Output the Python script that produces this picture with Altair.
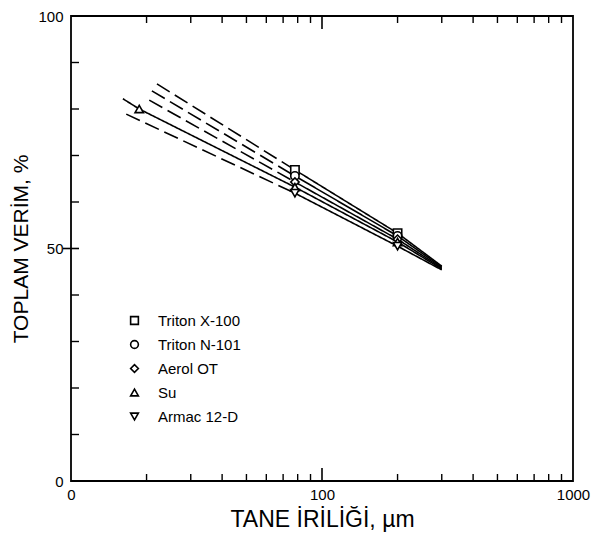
import altair as alt
import pandas as pd

# ---- data ----
series = ["Triton X-100", "Triton N-101", "Aerol OT", "Su", "Armac 12-D"]
shapes = ["square", "circle", "diamond", "triangle-up", "triangle-down"]

# dashed extrapolation start (size, %)
start_x = [22.0, 21.0, 20.5, 16.1, 16.6]
start_v = [85.4, 83.9, 81.9, 82.2, 78.9]
# measured points
x1 = 78
v1 = [66.9, 65.6, 64.3, 63.2, 61.9]
x2 = 200
v2 = [53.3, 52.7, 52.0, 51.4, 50.5]
# end of fitted lines
x3 = 300
v3 = [46.2, 46.0, 45.8, 45.6, 45.4]
# Su has one extra measured point at small size
su_x = 18.7
su_v = 80.0

minor_x = [20, 30, 40, 50, 60, 70, 80, 90, 200, 300, 400, 500, 600, 700, 800, 900]
major_x = [100]
minor_y = [10, 20, 30, 40, 60, 70, 80, 90]
major_y = [50]

W, H = 502, 465

rows = []
for i, s in enumerate(series):
    if s == "Su":
        rows += [
            dict(x=start_x[i], y=start_v[i], series=s, seg="solid", key=s + "a"),
            dict(x=su_x, y=su_v, series=s, seg="solid", key=s + "a"),
            dict(x=x1, y=v1[i], series=s, seg="solid", key=s + "a"),
        ]
    else:
        rows += [
            dict(x=start_x[i], y=start_v[i], series=s, seg="dash", key=s + "a"),
            dict(x=x1, y=v1[i], series=s, seg="dash", key=s + "a"),
        ]
    rows += [
        dict(x=x1, y=v1[i], series=s, seg="solid", key=s + "b"),
        dict(x=x2, y=v2[i], series=s, seg="solid", key=s + "b"),
        dict(x=x3, y=v3[i], series=s, seg="solid", key=s + "b"),
    ]
lines_df = pd.DataFrame(rows)

pts = []
for i, s in enumerate(series):
    pts.append(dict(x=x1, y=v1[i], series=s))
    pts.append(dict(x=x2, y=v2[i], series=s))
pts.append(dict(x=su_x, y=su_v, series="Su"))
pts_df = pd.DataFrame(pts)

xscale = alt.Scale(type="log", domain=[10, 1000], nice=False)
yscale = alt.Scale(domain=[0, 100], nice=False)

FONT = "Liberation Sans"

xaxis = alt.Axis(values=[10, 100, 1000],
                 labelExpr="datum.value == 10 ? '0' : format(datum.value, 'd')",
                 ticks=False, domain=False, grid=False, labelFontSize=15, labelPadding=6,
                 labelFont=FONT, labelColor="black", title="TANE İRİLİĞİ, µm",
                 titleFont=FONT, titleFontSize=23, titleFontWeight="normal", titleColor="black",
                 titlePadding=6, labelFlush=False, labelOverlap=False)
yaxis = alt.Axis(values=[0, 50, 100], ticks=False, domain=False, grid=False,
                 labelFontSize=15, labelPadding=8, labelFont=FONT, labelColor="black",
                 title="TOPLAM VERİM, %", titleFont=FONT, titleFontSize=21,
                 titleFontWeight="normal", titleColor="black", titlePadding=6,
                 labelFlush=False, labelOverlap=False)

lines = alt.Chart(lines_df).mark_line(color="black", strokeWidth=1.6).encode(
    x=alt.X("x:Q", scale=xscale, axis=xaxis),
    y=alt.Y("y:Q", scale=yscale, axis=yaxis),
    detail="key:N",
    strokeDash=alt.StrokeDash("seg:N", scale=alt.Scale(domain=["solid", "dash"], range=[[1, 0], [15, 6]]), legend=None),
)

def make_legend():
    return alt.Legend(title=None, orient="none", legendX=56, legendY=297,
                      labelFont=FONT, labelFontSize=15, labelColor="black",
                      symbolFillColor="white", symbolStrokeWidth=1.6, symbolSize=60,
                      labelOffset=16, rowPadding=8, padding=0)

points = alt.Chart(pts_df).mark_point(filled=False, fill="white", strokeWidth=1.6,
                                       size=70, opacity=1, fillOpacity=1).encode(
    x=alt.X("x:Q", scale=xscale),
    y=alt.Y("y:Q", scale=yscale),
    shape=alt.Shape("series:N", scale=alt.Scale(domain=series, range=shapes), legend=make_legend()),
    color=alt.Color("series:N", scale=alt.Scale(domain=series, range=["black"] * len(series)),
                    legend=make_legend()),
)

tx_min = pd.DataFrame({"x": minor_x})
tx_maj = pd.DataFrame({"x": major_x})
ty_min = pd.DataFrame({"y": minor_y})
ty_maj = pd.DataFrame({"y": major_y})

bot_min = alt.Chart(tx_min).mark_rule(color="black", strokeWidth=1.4).encode(
    x=alt.X("x:Q", scale=xscale), y=alt.value(H), y2=alt.value(H - 7))
bot_maj = alt.Chart(tx_maj).mark_rule(color="black", strokeWidth=1.6).encode(
    x=alt.X("x:Q", scale=xscale), y=alt.value(H), y2=alt.value(H - 13))
top_min = alt.Chart(tx_min).mark_rule(color="black", strokeWidth=1.4).encode(
    x=alt.X("x:Q", scale=xscale), y=alt.value(0), y2=alt.value(7))
top_maj = alt.Chart(tx_maj).mark_rule(color="black", strokeWidth=1.6).encode(
    x=alt.X("x:Q", scale=xscale), y=alt.value(0), y2=alt.value(13))
left_min = alt.Chart(ty_min).mark_rule(color="black", strokeWidth=1.4).encode(
    y=alt.Y("y:Q", scale=yscale), x=alt.value(0), x2=alt.value(8))
left_maj = alt.Chart(ty_maj).mark_rule(color="black", strokeWidth=1.6).encode(
    y=alt.Y("y:Q", scale=yscale), x=alt.value(-8), x2=alt.value(8))

chart = alt.layer(bot_min, bot_maj, top_min, top_maj, left_min, left_maj, lines, points).properties(
    width=W, height=H,
    autosize=alt.AutoSizeParams(type="none"),
    padding={"left": 71, "top": 16, "right": 18, "bottom": 52},
    background="white",
).configure_view(stroke="black", strokeWidth=1.8)

chart.save("out.html", embed_options={"renderer": "svg", "actions": False})
